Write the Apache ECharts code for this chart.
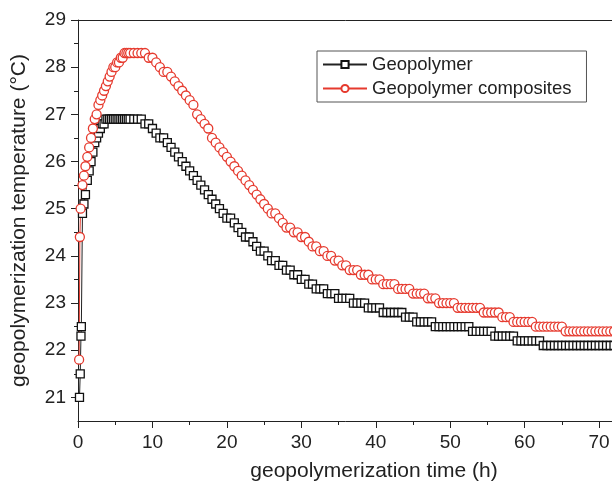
<!DOCTYPE html>
<html>
<head>
<meta charset="utf-8">
<script src="https://cdn.jsdelivr.net/npm/echarts@6/dist/echarts.min.js"></script>
<style>
  html, body { margin: 0; padding: 0; background: #fff; }
  #chart { width: 612px; height: 486px; }
</style>
</head>
<body>
<div id="chart"></div>
<script>
// readings up to 6.75 h, logged more often while the temperature climbs
const leadHoursBlack = [
  0.2, 0.3, 0.4, 0.45, 0.6, 0.8, 1.0, 1.25, 1.5, 1.75,
  2.0, 2.25, 2.5, 2.75, 3.0, 3.25, 3.5, 3.75, 4.0, 4.25,
  4.5, 4.75, 5.0, 5.25, 5.5, 5.75, 6.0, 6.25, 6.5, 6.75
];
const leadTempsBlack = [
  21.0, 21.5, 22.3, 22.5, 24.9, 25.1, 25.3, 25.6, 25.8, 26.0,
  26.2, 26.4, 26.5, 26.6, 26.7, 26.8, 26.8, 26.9, 26.9, 26.9,
  26.9, 26.9, 26.9, 26.9, 26.9, 26.9, 26.9, 26.9, 26.9, 26.9
];
const leadHoursRed = [
  0.15, 0.25, 0.35, 0.6, 0.8, 1.0, 1.25, 1.5, 1.75, 2.0,
  2.25, 2.5, 2.75, 3.0, 3.25, 3.5, 3.75, 4.0, 4.25, 4.5,
  4.75, 5.0, 5.25, 5.5, 5.75, 6.0, 6.25, 6.5, 6.75
];
const leadTempsRed = [
  21.8, 24.4, 25.0, 25.5, 25.7, 25.9, 26.1, 26.3, 26.5, 26.7,
  26.9, 27.0, 27.2, 27.3, 27.4, 27.5, 27.6, 27.7, 27.8, 27.9,
  28.0, 28.0, 28.1, 28.1, 28.2, 28.2, 28.3, 28.3, 28.3
];

// then every half hour from 7 h to 72 h
const hours = [
  7.0, 7.5, 8.0, 8.5, 9.0, 9.5, 10.0, 10.5,
  11.0, 11.5, 12.0, 12.5, 13.0, 13.5, 14.0, 14.5, 15.0, 15.5,
  16.0, 16.5, 17.0, 17.5, 18.0, 18.5, 19.0, 19.5, 20.0, 20.5,
  21.0, 21.5, 22.0, 22.5, 23.0, 23.5, 24.0, 24.5, 25.0, 25.5,
  26.0, 26.5, 27.0, 27.5, 28.0, 28.5, 29.0, 29.5, 30.0, 30.5,
  31.0, 31.5, 32.0, 32.5, 33.0, 33.5, 34.0, 34.5, 35.0, 35.5,
  36.0, 36.5, 37.0, 37.5, 38.0, 38.5, 39.0, 39.5, 40.0, 40.5,
  41.0, 41.5, 42.0, 42.5, 43.0, 43.5, 44.0, 44.5, 45.0, 45.5,
  46.0, 46.5, 47.0, 47.5, 48.0, 48.5, 49.0, 49.5, 50.0, 50.5,
  51.0, 51.5, 52.0, 52.5, 53.0, 53.5, 54.0, 54.5, 55.0, 55.5,
  56.0, 56.5, 57.0, 57.5, 58.0, 58.5, 59.0, 59.5, 60.0, 60.5,
  61.0, 61.5, 62.0, 62.5, 63.0, 63.5, 64.0, 64.5, 65.0, 65.5,
  66.0, 66.5, 67.0, 67.5, 68.0, 68.5, 69.0, 69.5, 70.0, 70.5,
  71.0, 71.5, 72.0
];

const geopolymer = [
  26.9, 26.9, 26.9, 26.9, 26.8, 26.8, 26.7, 26.6,
  26.5, 26.5, 26.4, 26.3, 26.2, 26.1, 26.0, 25.9, 25.8, 25.7,
  25.6, 25.5, 25.4, 25.3, 25.2, 25.1, 25.0, 24.9, 24.8, 24.8,
  24.7, 24.6, 24.5, 24.4, 24.4, 24.3, 24.2, 24.1, 24.1, 24.0,
  23.9, 23.9, 23.8, 23.8, 23.7, 23.7, 23.6, 23.6, 23.5, 23.5,
  23.4, 23.4, 23.3, 23.3, 23.3, 23.2, 23.2, 23.2, 23.1, 23.1,
  23.1, 23.1, 23.0, 23.0, 23.0, 23.0, 22.9, 22.9, 22.9, 22.9,
  22.8, 22.8, 22.8, 22.8, 22.8, 22.8, 22.7, 22.7, 22.7, 22.6,
  22.6, 22.6, 22.6, 22.6, 22.5, 22.5, 22.5, 22.5, 22.5, 22.5,
  22.5, 22.5, 22.5, 22.5, 22.4, 22.4, 22.4, 22.4, 22.4, 22.4,
  22.3, 22.3, 22.3, 22.3, 22.3, 22.3, 22.2, 22.2, 22.2, 22.2,
  22.2, 22.2, 22.2, 22.1, 22.1, 22.1, 22.1, 22.1, 22.1, 22.1,
  22.1, 22.1, 22.1, 22.1, 22.1, 22.1, 22.1, 22.1, 22.1, 22.1,
  22.1, 22.1, 22.1
];

const composites = [
  28.3, 28.3, 28.3, 28.3, 28.3, 28.2, 28.2, 28.1,
  28.0, 27.9, 27.9, 27.8, 27.7, 27.6, 27.5, 27.4, 27.3, 27.2,
  27.0, 26.9, 26.8, 26.7, 26.5, 26.4, 26.3, 26.2, 26.1, 26.0,
  25.9, 25.8, 25.7, 25.6, 25.5, 25.4, 25.3, 25.2, 25.1, 25.0,
  24.9, 24.9, 24.8, 24.7, 24.6, 24.6, 24.5, 24.5, 24.4, 24.4,
  24.3, 24.2, 24.2, 24.1, 24.1, 24.0, 24.0, 23.9, 23.9, 23.8,
  23.8, 23.7, 23.7, 23.7, 23.6, 23.6, 23.6, 23.5, 23.5, 23.5,
  23.4, 23.4, 23.4, 23.4, 23.3, 23.3, 23.3, 23.3, 23.2, 23.2,
  23.2, 23.2, 23.1, 23.1, 23.1, 23.0, 23.0, 23.0, 23.0, 23.0,
  22.9, 22.9, 22.9, 22.9, 22.9, 22.9, 22.9, 22.8, 22.8, 22.8,
  22.8, 22.8, 22.7, 22.7, 22.7, 22.6, 22.6, 22.6, 22.6, 22.6,
  22.6, 22.5, 22.5, 22.5, 22.5, 22.5, 22.5, 22.5, 22.5, 22.4,
  22.4, 22.4, 22.4, 22.4, 22.4, 22.4, 22.4, 22.4, 22.4, 22.4,
  22.4, 22.4, 22.4
];

const xTicks = [0, 10, 20, 30, 40, 50, 60, 70];
const xMinorTicks = [5, 15, 25, 35, 45, 55, 65];
const yTicks = [21, 22, 23, 24, 25, 26, 27, 28, 29];
const yMinorTicks = [21.5, 22.5, 23.5, 24.5, 25.5, 26.5, 27.5, 28.5];

const FONT = "'Liberation Sans', Arial, Helvetica, sans-serif";
const RED = "#e63a2e";

function pairs(xs, ys) {
  return xs.map((x, i) => [x, ys[i]]);
}

const blackData = pairs(leadHoursBlack, leadTempsBlack).concat(pairs(hours, geopolymer));
const redData = pairs(leadHoursRed, leadTempsRed).concat(pairs(hours, composites));

const chart = echarts.init(document.getElementById("chart"));

chart.setOption({
  animation: false,
  backgroundColor: "#fff",
  textStyle: { fontFamily: FONT },
  grid: { left: 78, top: 20, right: -2, bottom: 65, containLabel: false, outerBoundsMode: "none" },
  legend: {
    orient: "vertical",
    left: 317,
    top: 51,
    padding: [4, 15, 4, 5],
    itemGap: 5,
    itemWidth: 44,
    itemHeight: 9,
    borderColor: "#555",
    borderWidth: 1,
    textStyle: { fontFamily: FONT, fontSize: 18.5, color: "#222" },
    data: ["Geopolymer", "Geopolymer composites"]
  },
  xAxis: [
    {
      type: "value",
      min: 0,
      max: 72,
      interval: 10,
      name: "geopolymerization time (h)",
      nameLocation: "middle",
      nameGap: 40,
      nameTextStyle: { fontSize: 21, color: "#222", padding: [0, 0, 0, 56] },
      axisLine: { lineStyle: { color: "#222", width: 1 } },
      axisTick: { length: 7, customValues: xTicks, lineStyle: { color: "#222" } },
      axisLabel: { customValues: xTicks, fontSize: 19, color: "#222", margin: 12 },
      splitLine: { show: false }
    },
    {
      type: "value",
      position: "bottom",
      min: 0,
      max: 72,
      axisLine: { show: false },
      axisTick: { length: 4, customValues: xMinorTicks, lineStyle: { color: "#222" } },
      axisLabel: { show: false },
      splitLine: { show: false }
    },
    {
      type: "value",
      position: "top",
      min: 0,
      max: 72,
      axisLine: { lineStyle: { color: "#222", width: 1 } },
      axisTick: { show: false },
      axisLabel: { show: false },
      splitLine: { show: false }
    }
  ],
  yAxis: [
    {
      type: "value",
      min: 20.5,
      max: 29,
      name: "geopolymerization temperature (°C)",
      nameLocation: "middle",
      nameGap: 48,
      nameTextStyle: { fontSize: 21, color: "#222" },
      axisLine: { show: true, lineStyle: { color: "#222", width: 1 } },
      axisTick: { show: true, length: 7, customValues: yTicks, lineStyle: { color: "#222" } },
      axisLabel: { customValues: yTicks, fontSize: 19, color: "#222", margin: 12 },
      splitLine: { show: false }
    },
    {
      type: "value",
      position: "left",
      min: 20.5,
      max: 29,
      axisLine: { show: false },
      axisTick: { show: true, length: 4, customValues: yMinorTicks, lineStyle: { color: "#222" } },
      axisLabel: { show: false },
      splitLine: { show: false }
    }
  ],
  series: [
    {
      name: "Geopolymer",
      type: "line",
      data: blackData,
      symbol: "rect",
      symbolSize: 8,
      showAllSymbol: true,
      lineStyle: { color: "#222", width: 1 },
      itemStyle: { color: "#fff", borderColor: "#111", borderWidth: 1.3 }
    },
    {
      name: "Geopolymer composites",
      type: "line",
      data: redData,
      symbol: "circle",
      symbolSize: 9,
      showAllSymbol: true,
      lineStyle: { color: RED, width: 1 },
      itemStyle: { color: "#fff", borderColor: RED, borderWidth: 1.3 }
    }
  ]
});
</script>
</body>
</html>
